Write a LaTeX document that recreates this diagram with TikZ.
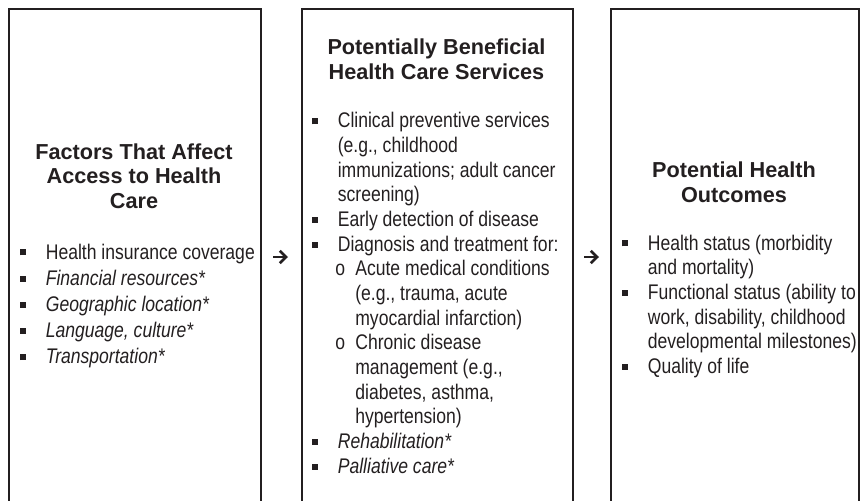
\documentclass[tikz,border=0pt]{standalone}
\usepackage{fontspec}
\newfontfamily\bodyfont{Liberation Sans}[FakeStretch=0.83]
\newfontfamily\headfont{Liberation Sans}
\usetikzlibrary{arrows.meta,positioning}
\definecolor{ink}{HTML}{231F20}

% list helpers: square bullet, hanging lines, "o" sub-items
\newcommand{\sqbullet}{\rule[2.2pt]{3.6pt}{3.6pt}}
\newcommand{\itm}[1]{\makebox[15.3pt][l]{\sqbullet}#1}
\newcommand{\more}[1]{\hspace*{15.3pt}#1}
\newcommand{\subitm}[1]{\hspace*{13.8pt}\makebox[12pt][l]{o}#1}
\newcommand{\submore}[1]{\hspace*{25.8pt}#1}

\begin{document}
\begin{tikzpicture}[x=0.6pt, y=-0.6pt,
  panel/.style={draw=ink, line width=1.1pt, inner sep=0pt, anchor=north west, minimum height=312pt},
  heading/.style={anchor=base, inner sep=0pt, text=ink, font={\headfont\bfseries\fontsize{13}{14.8}\selectfont}},
  bullets/.style={anchor=base west, inner sep=0pt, text=ink, font={\bodyfont\fontsize{12.7}{14.8}\selectfont}},
  flow/.style={-{Straight Barb[length=3.8pt,width=7.4pt]}, line width=1.6pt, draw=ink}
]
\useasboundingbox (0,0) rectangle (866,500);
\clip (0,0) rectangle (866,500);

% the three columns (open at the bottom)
\node[panel, minimum width=151.2pt] (access) at (8,8) {};
\node[panel, minimum width=162.6pt] (services) at (301,8) {};
\node[panel, minimum width=148.8pt] (outcomes) at (610,8) {};

% headings
\node[heading] (accessT) at (134,159) {\begin{tabular}[t]{@{}c@{}}Factors That Affect\\Access to Health\\Care\end{tabular}};
\node[heading] (servicesT) at (436.5,55) {\begin{tabular}[t]{@{}c@{}}Potentially Beneficial\\Health Care Services\end{tabular}};
\node[heading] (outcomesT) at (734,178) {\begin{tabular}[t]{@{}c@{}}Potential Health\\Outcomes\end{tabular}};

% item lists
\node[bullets, font={\bodyfont\fontsize{12.7}{15.7}\selectfont}] (accessL) at (20,259) {\begin{tabular}[t]{@{}l@{}}
  \itm{Health insurance coverage}\\
  \itm{\itshape Financial resources*}\\
  \itm{\itshape Geographic location*}\\
  \itm{\itshape Language, culture*}\\
  \itm{\itshape Transportation*}
\end{tabular}};
\node[bullets] (servicesL) at (312,128) {\begin{tabular}[t]{@{}l@{}}
  \itm{Clinical preventive services}\\
  \more{(e.g., childhood}\\
  \more{immunizations; adult cancer}\\
  \more{screening)}\\
  \itm{Early detection of disease}\\
  \itm{Diagnosis and treatment for:}\\
  \subitm{Acute medical conditions}\\
  \submore{(e.g., trauma, acute}\\
  \submore{myocardial infarction)}\\
  \subitm{Chronic disease}\\
  \submore{management (e.g.,}\\
  \submore{diabetes, asthma,}\\
  \submore{hypertension)}\\
  \itm{\itshape Rehabilitation*}\\
  \itm{\itshape Palliative care*}
\end{tabular}};
\node[bullets] (outcomesL) at (622,250) {\begin{tabular}[t]{@{}l@{}}
  \itm{Health status (morbidity}\\
  \more{and mortality)}\\
  \itm{Functional status (ability to}\\
  \more{work, disability, childhood}\\
  \more{developmental milestones)}\\
  \itm{Quality of life}
\end{tabular}};

% arrows between columns
\coordinate (a1s) at (273,257);
\coordinate (a1e) at (288,257);
\coordinate (a2s) at (584,257);
\coordinate (a2e) at (599,257);
\draw[flow] (a1s) -- (a1e);
\draw[flow] (a2s) -- (a2e);
\end{tikzpicture}
\end{document}
